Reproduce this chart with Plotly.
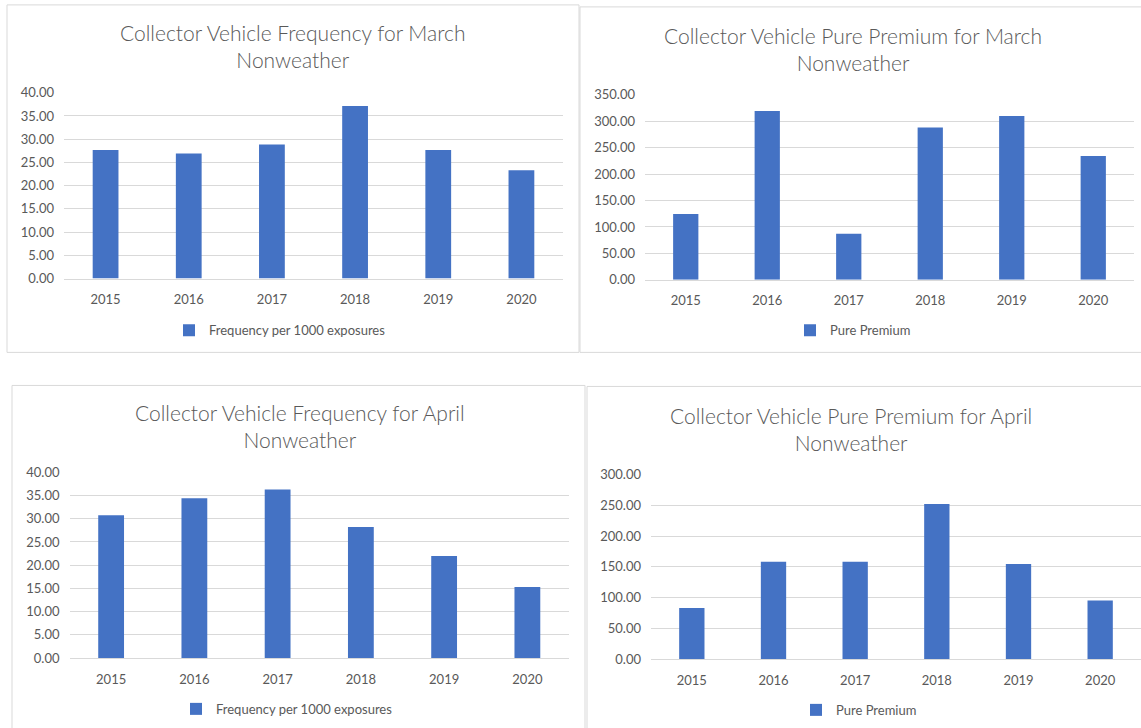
import plotly.graph_objects as go

W, H = 1141, 728

years = ["2015", "2016", "2017", "2018", "2019", "2020"]
freq_march = [27.65, 26.93, 28.87, 37.13, 27.65, 23.34]
pp_march = [124.7, 319.6, 87.3, 288.0, 310.0, 234.2]
freq_april = [30.74, 34.40, 36.27, 28.22, 21.97, 15.30]
pp_april = [83.0, 158.4, 158.4, 252.3, 154.6, 95.5]

titles = [
    "Collector Vehicle Frequency for March<br>Nonweather",
    "Collector Vehicle Pure Premium for March<br>Nonweather",
    "Collector Vehicle Frequency for April<br>Nonweather",
    "Collector Vehicle Pure Premium for April<br>Nonweather",
]
series_names = ["Frequency per 1000 exposures", "Pure Premium",
                "Frequency per 1000 exposures", "Pure Premium"]

BAR = "#4472c4"
GRID = "#d9d9d9"
TXT = "#595959"
FONT = "Lato"

# vertical calibration of the photographed page
V_OFF, V_SC = 8.1, 0.9766


def px(x):
    return x / W


def py(y):
    return 1 - ((y - V_OFF) / V_SC) / H


panels = [
    dict(data=freq_march, x=(64, 563), y=(92.7, 278.3), ymax=40, dt=5,
         title=(293, 46.5), legend=(391, 330), border=(7, 5, 579, 352)),
    dict(data=pp_march, x=(645, 1134), y=(94.8, 279.5), ymax=350, dt=50,
         title=(853, 49.5), legend=(916, 330), border=(580, 7, 1160, 352)),
    dict(data=freq_april, x=(69.5, 569), y=(471.7, 657.3), ymax=40, dt=5,
         title=(300, 425), legend=(398, 708), border=(12, 385, 585, 760)),
    dict(data=pp_april, x=(651, 1141), y=(474, 658.3), ymax=300, dt=50,
         title=(851, 428), legend=(922, 709), border=(587, 386, 1160, 760)),
]

fig = go.Figure()
shapes = []
annotations = []
layout = {}

for i, p in enumerate(panels):
    k = i + 1
    xa = "xaxis" if k == 1 else f"xaxis{k}"
    ya = "yaxis" if k == 1 else f"yaxis{k}"
    xr = "x" if k == 1 else f"x{k}"
    yr = "y" if k == 1 else f"y{k}"
    lg = "legend" if k == 1 else f"legend{k}"

    fig.add_trace(go.Bar(
        x=years, y=p["data"], name=series_names[i],
        marker=dict(color=BAR, line=dict(width=0)),
        xaxis=xr, yaxis=yr, legend=lg, showlegend=True,
        hoverinfo="x+y",
    ))

    layout[xa] = dict(
        domain=[px(p["x"][0]), px(p["x"][1])],
        anchor=yr, type="category",
        showgrid=False, zeroline=False, showline=True,
        linecolor=GRID, linewidth=1,
        tickfont=dict(family=FONT, size=13, color=TXT),
        ticks="", ticklabelstandoff=9,
        fixedrange=True,
    )
    layout[ya] = dict(
        domain=[py(p["y"][1]), py(p["y"][0])],
        anchor=xr, range=[0, p["ymax"]], dtick=p["dt"],
        tickformat=".2f",
        showgrid=True, gridcolor=GRID, gridwidth=1,
        zeroline=False, showline=False,
        tickfont=dict(family=FONT, size=13, color=TXT),
        ticks="", ticklabelstandoff=9,
        fixedrange=True,
    )
    layout[lg] = dict(
        x=px(p["legend"][0]), y=py(p["legend"][1]),
        xanchor="right", yanchor="middle",
        orientation="h", bgcolor="rgba(0,0,0,0)",
        font=dict(family=FONT, size=13, color=TXT),
    )
    annotations.append(dict(
        x=px(p["title"][0]), y=py(p["title"][1]),
        xref="paper", yref="paper", xanchor="center", yanchor="middle",
        text=titles[i], showarrow=False, align="center",
        font=dict(family=FONT, size=21, color=TXT, weight=300),
    ))
    bx0, by0, bx1, by1 = p["border"]
    shapes.append(dict(
        type="rect", xref="paper", yref="paper",
        x0=px(bx0), x1=px(bx1), y0=py(by1), y1=py(by0),
        line=dict(color=GRID, width=1), fillcolor="rgba(0,0,0,0)",
        layer="below",
    ))

fig.update_layout(
    width=W, height=H,
    margin=dict(l=0, r=0, t=0, b=0),
    paper_bgcolor="white", plot_bgcolor="rgba(0,0,0,0)",
    bargap=0.69,
    shapes=shapes, annotations=annotations,
    **layout,
)

post = (
    "document.documentElement.style.margin='0';"
    "document.body.style.margin='0';"
    "document.documentElement.style.overflow='hidden';"
    "document.body.style.overflow='hidden';"
    "var gd=document.getElementById('{plot_id}');"
    "gd.style.position='fixed';gd.style.top='0px';gd.style.left='0px';"
)

fig.write_html(
    "out.html",
    config={"displayModeBar": False},
    post_script=post,
)
